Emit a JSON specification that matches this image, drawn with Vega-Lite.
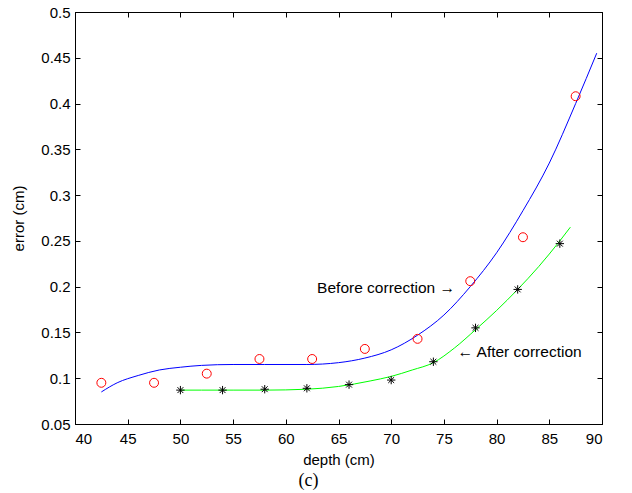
{
  "$schema": "https://vega.github.io/schema/vega-lite/v6.json",
  "autosize": "none",
  "width": 527,
  "height": 412,
  "padding": {"left": 75, "top": 12, "right": 30, "bottom": 69},
  "background": "white",
  "config": {
    "view": {"stroke": "black", "strokeWidth": 1},
    "axis": {
      "grid": false,
      "domainColor": "black",
      "tickColor": "black",
      "tickSize": -5,
      "labelColor": "black",
      "labelFont": "Liberation Sans",
      "labelFontSize": 15,
      "titleFont": "Liberation Sans",
      "titleFontSize": 15,
      "titleFontWeight": "normal",
      "titleColor": "black"
    }
  },
  "title": {"text": "(c)", "orient": "bottom", "font": "Liberation Serif", "fontSize": 18, "fontWeight": "normal", "color": "black", "offset": 5, "dx": -30},
  "datasets": {
    "before_fit": [
      {"depth": 42.5, "error": 0.085}, {"depth": 44, "error": 0.095}, {"depth": 46, "error": 0.103},
      {"depth": 48, "error": 0.109}, {"depth": 50, "error": 0.112}, {"depth": 52, "error": 0.114},
      {"depth": 55, "error": 0.115}, {"depth": 58, "error": 0.115}, {"depth": 62, "error": 0.115},
      {"depth": 65, "error": 0.117}, {"depth": 67.5, "error": 0.122}, {"depth": 70, "error": 0.131},
      {"depth": 72.5, "error": 0.147}, {"depth": 75, "error": 0.169}, {"depth": 77.5, "error": 0.2},
      {"depth": 80, "error": 0.237}, {"depth": 82.5, "error": 0.283}, {"depth": 85, "error": 0.335},
      {"depth": 87.5, "error": 0.4}, {"depth": 89.5, "error": 0.455}
    ],
    "after_fit": [
      {"depth": 50, "error": 0.087}, {"depth": 52, "error": 0.087}, {"depth": 55, "error": 0.087},
      {"depth": 58, "error": 0.087}, {"depth": 62, "error": 0.088}, {"depth": 65, "error": 0.091},
      {"depth": 68, "error": 0.097}, {"depth": 70, "error": 0.102}, {"depth": 72, "error": 0.109},
      {"depth": 74, "error": 0.117}, {"depth": 76, "error": 0.133}, {"depth": 78, "error": 0.153},
      {"depth": 80, "error": 0.174}, {"depth": 82, "error": 0.197}, {"depth": 84, "error": 0.222},
      {"depth": 86, "error": 0.25}, {"depth": 87, "error": 0.265}
    ],
    "before_pts": [
      {"depth": 42.5, "error": 0.095}, {"depth": 47.5, "error": 0.095}, {"depth": 52.5, "error": 0.105},
      {"depth": 57.5, "error": 0.121}, {"depth": 62.5, "error": 0.121}, {"depth": 67.5, "error": 0.132},
      {"depth": 72.5, "error": 0.143}, {"depth": 77.5, "error": 0.206}, {"depth": 82.5, "error": 0.254},
      {"depth": 87.5, "error": 0.408}
    ],
    "after_pts": [
      {"depth": 50, "error": 0.087}, {"depth": 54, "error": 0.087}, {"depth": 58, "error": 0.088},
      {"depth": 62, "error": 0.089}, {"depth": 66, "error": 0.093}, {"depth": 70, "error": 0.098},
      {"depth": 74, "error": 0.118}, {"depth": 78, "error": 0.155}, {"depth": 82, "error": 0.197},
      {"depth": 86, "error": 0.247}
    ],
    "note_before": [
      {"depth": 76.05, "error": 0.1985, "label": "Before correction →"}
    ],
    "note_after": [
      {"depth": 76.3, "error": 0.129, "label": "← After correction"}
    ]
  },
  "layer": [
    {
      "data": {"name": "before_fit"},
      "mark": {"type": "line", "color": "#0000ff", "strokeWidth": 1, "interpolate": "monotone"},
      "encoding": {
        "x": {"field": "depth", "type": "quantitative", "scale": {"domain": [40, 90], "nice": false, "zero": false},
              "axis": {"orient": "bottom", "title": "depth (cm)", "format": "~g", "values": [40,45,50,55,60,65,70,75,80,85,90], "labelPadding": 12, "titlePadding": 6}},
        "y": {"field": "error", "type": "quantitative", "scale": {"domain": [0.05, 0.5], "nice": false, "zero": false},
              "axis": {"orient": "left", "title": "error (cm)", "format": "~g", "values": [0.05,0.1,0.15,0.2,0.25,0.3,0.35,0.4,0.45,0.5], "labelPadding": 10, "titlePadding": 14}}
      }
    },
    {
      "data": {"name": "after_fit"},
      "mark": {"type": "line", "color": "#00ff00", "strokeWidth": 1, "interpolate": "monotone"},
      "encoding": {
        "x": {"field": "depth", "type": "quantitative", "axis": {"orient": "top", "title": null, "labels": false, "values": [40,45,50,55,60,65,70,75,80,85,90]}},
        "y": {"field": "error", "type": "quantitative", "axis": {"orient": "right", "title": null, "labels": false, "values": [0.05,0.1,0.15,0.2,0.25,0.3,0.35,0.4,0.45,0.5]}}
      }
    },
    {
      "data": {"name": "before_pts"},
      "mark": {"type": "point", "shape": "circle", "filled": false, "color": "#ff0000", "size": 80, "strokeWidth": 1, "opacity": 1},
      "encoding": {
        "x": {"field": "depth", "type": "quantitative", "axis": null},
        "y": {"field": "error", "type": "quantitative", "axis": null}
      }
    },
    {
      "data": {"name": "after_pts"},
      "mark": {"type": "point", "shape": "M-1,0L1,0M0,-1L0,1M-0.7,-0.7L0.7,0.7M-0.7,0.7L0.7,-0.7", "filled": false, "color": "black", "size": 70, "strokeWidth": 1, "opacity": 1},
      "encoding": {
        "x": {"field": "depth", "type": "quantitative", "axis": null},
        "y": {"field": "error", "type": "quantitative", "axis": null}
      }
    },
    {
      "data": {"name": "note_before"},
      "mark": {"type": "text", "font": "Liberation Sans", "fontSize": 15.5, "color": "black", "baseline": "middle", "align": "right"},
      "encoding": {
        "x": {"field": "depth", "type": "quantitative", "axis": null},
        "y": {"field": "error", "type": "quantitative", "axis": null},
        "text": {"field": "label"}
      }
    },
    {
      "data": {"name": "note_after"},
      "mark": {"type": "text", "font": "Liberation Sans", "fontSize": 15.5, "color": "black", "baseline": "middle", "align": "left"},
      "encoding": {
        "x": {"field": "depth", "type": "quantitative", "axis": null},
        "y": {"field": "error", "type": "quantitative", "axis": null},
        "text": {"field": "label"}
      }
    }
  ],
  "resolve": {"axis": {"x": "independent", "y": "independent"}}
}
